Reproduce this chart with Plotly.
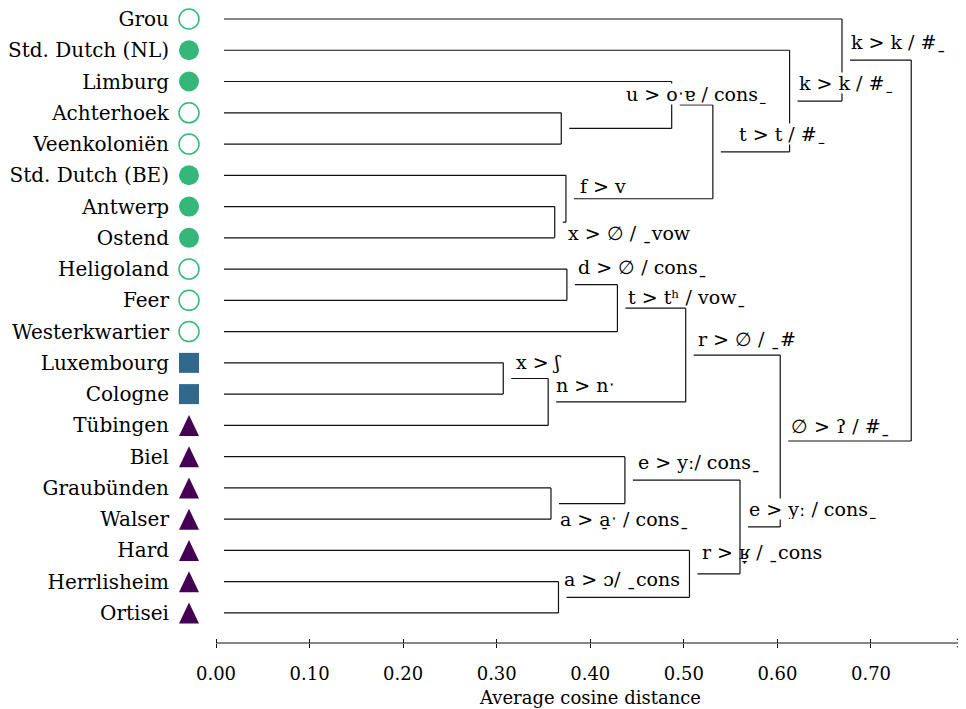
import plotly.graph_objects as go

# ---------------- data ----------------
leaves = ["Grou", "Std. Dutch (NL)", "Limburg", "Achterhoek", "Veenkoloniën",
          "Std. Dutch (BE)", "Antwerp", "Ostend", "Heligoland", "Feer",
          "Westerkwartier", "Luxembourg", "Cologne", "Tübingen", "Biel",
          "Graubünden", "Walser", "Hard", "Herrlisheim", "Ortisei"]
leaf_group = ["open", "filled", "filled", "open", "open",
              "filled", "filled", "filled", "open", "open",
              "open", "square", "square", "triangle", "triangle",
              "triangle", "triangle", "triangle", "triangle", "triangle"]

# merges: node id = 20 + position in these lists
merge_left = [3, 6, 5, 2, 23, 1, 0, 8, 27, 11, 29, 28, 15, 14, 18, 17, 33, 31, 26]
merge_right = [4, 7, 21, 20, 22, 24, 25, 9, 10, 12, 13, 30, 16, 32, 19, 34, 35, 36, 37]
merge_height = [0.369, 0.362, 0.374, 0.487, 0.531, 0.613, 0.669, 0.375, 0.429,
                0.307, 0.355, 0.502, 0.358, 0.437, 0.366, 0.506, 0.560, 0.603, 0.743]
merge_label = [None, "x > ∅ / ˍvow", "f > v", "u > oˑɐ / consˍ", "t > t / #ˍ",
               "k > k / #ˍ", "k > k / #ˍ", "d > ∅ / consˍ", "t > tʰ / vowˍ",
               "x > ʃ", "n > nˑ", "r > ∅ / ˍ#", "a > a̠ˑ / consˍ", "e > yː/ consˍ",
               "a > ɔ/ ˍcons", "r > ʁ̞ / ˍcons", "e > yː / consˍ", "∅ > ʔ / #ˍ", None]

tick_values = [0.0, 0.1, 0.2, 0.3, 0.4, 0.5, 0.6, 0.7]
tick_text = ["0.00", "0.10", "0.20", "0.30", "0.40", "0.50", "0.60", "0.70"]
axis_title = "Average cosine distance"

# ---------------- layout / style ----------------
# (page body has an 8px margin, so the figure is 16px smaller than the window)
W, H = 958, 701
ML, MR, MT, MB = 164, 2, 0, 66
ZERO_PX = 208                     # pixel position of x = 0 inside the figure
PLOT_W = W - ML - MR
PX_PER_X = 935.7
X_MIN = -(ZERO_PX - ML) / PX_PER_X
X_MAX = X_MIN + PLOT_W / PX_PER_X
LEAF_PX = 31.26
Y_TOP = -11 / LEAF_PX
Y_BOTTOM = Y_TOP + (H - MT - MB) / LEAF_PX
GAP = 8 / PX_PER_X
MARKER_X = -27 / PX_PER_X
FONT = "DejaVu Serif"
GREEN, BLUE, PURPLE = "#35b779", "#31688e", "#440154"
LINE_COLOR = "#111111"

# per-label placement relative to start of node's outgoing branch (px) and mask flag
label_style = {
    1: (4, -10.5, False), 2: (5, 13, False), 3: (-55, 11, True), 4: (17, 18, True),
    5: (0, 18.5, True), 6: (0, 18.5, False), 7: (2, 17.5, False), 8: (2, 11.5, False),
    9: (4, 16.5, False), 10: (-1, 16.5, False), 11: (3, 16.5, False), 12: (0, -15.5, False),
    13: (4, 18.5, False), 14: (-3, 18.5, False), 15: (4, 21.5, False), 16: (0, 17.5, True),
    17: (2, 15.5, False),
}

# ---------------- compute tree geometry ----------------
n = len(leaves)
node_y = [float(i) for i in range(n)]
node_h = [0.0] * n
for a, b, h in zip(merge_left, merge_right, merge_height):
    node_y.append((node_y[a] + node_y[b]) / 2)
    node_h.append(h)
start_x = [h + GAP for h in node_h]

xs, ys = [], []
for a, b, h in zip(merge_left, merge_right, merge_height):
    for c in (a, b):
        xs += [start_x[c], h, None]
        ys += [node_y[c], node_y[c], None]
    xs += [h, h, None]
    ys += [node_y[a], node_y[b], None]

fig = go.Figure()
fig.add_trace(go.Scatter(x=xs, y=ys, mode="lines",
                         line=dict(color=LINE_COLOR, width=1.2),
                         hoverinfo="skip", showlegend=False))


def idx(g):
    return [i for i, v in enumerate(leaf_group) if v == g]


for g, sym, color, extra in [("open", "circle-open", GREEN, dict(line=dict(color=GREEN, width=1.5))),
                             ("filled", "circle", GREEN, dict(line=dict(width=0))),
                             ("square", "square", BLUE, dict(line=dict(width=0)))]:
    ii = idx(g)
    fig.add_trace(go.Scatter(x=[MARKER_X] * len(ii), y=[node_y[i] for i in ii],
                             mode="markers", cliponaxis=False, showlegend=False,
                             hoverinfo="skip",
                             marker=dict(symbol=sym, size=20, color=color, **extra)))

shapes = []
for i in idx("triangle"):
    shapes.append(dict(type="path", xref="x", yref="y", xsizemode="pixel", ysizemode="pixel",
                       xanchor=MARKER_X, yanchor=node_y[i],
                       path="M -10,-10.5 L 10,-10.5 L 0,10.5 Z",
                       fillcolor=PURPLE, line=dict(width=0), layer="above"))
# x axis line from 0 to the arrow tip, and the arrow head
shapes.append(dict(type="line", xref="x", yref="paper", x0=0, x1=X_MAX, y0=0, y1=0,
                   line=dict(color=LINE_COLOR, width=1.1)))
shapes.append(dict(type="path", xref="x", yref="paper", xsizemode="pixel", ysizemode="pixel",
                   xanchor=X_MAX, yanchor=0, path="M -7,4 Q -3,1.2 0,0 Q -3,-1.2 -7,-4",
                   line=dict(color=LINE_COLOR, width=1.1)))

annotations = []
for k, lab in enumerate(merge_label):
    if lab is None:
        continue
    node = n + k
    dx, dy, mask = label_style[k]
    ann = dict(x=start_x[node], y=node_y[node], xref="x", yref="y", text=lab,
               showarrow=False, xanchor="left", yanchor="middle",
               xshift=dx, yshift=dy, font=dict(family=FONT, size=19, color="black"),
               borderpad=0)
    if mask:
        ann.update(bgcolor="white", height=20)
    annotations.append(ann)

# axis title centred under the 0 .. arrow span
annotations.append(dict(x=X_MAX / 2, y=0, xref="x", yref="paper", text=axis_title,
                        showarrow=False, xanchor="center", yanchor="middle", yshift=-54,
                        font=dict(family=FONT, size=18, color="black")))

# invisible trace for the overlay tick axis
fig.add_trace(go.Scatter(x=[0], y=[0], xaxis="x2", mode="markers",
                         marker=dict(opacity=0), hoverinfo="skip", showlegend=False))

fig.update_layout(
    width=W, height=H, margin=dict(l=ML, r=MR, t=MT, b=MB),
    paper_bgcolor="white", plot_bgcolor="white",
    font=dict(family=FONT, color="black"),
    shapes=shapes, annotations=annotations,
    xaxis=dict(range=[X_MIN, X_MAX], showgrid=False, zeroline=False, showline=False,
               ticks="outside", ticklen=4, tickwidth=1.1, tickcolor=LINE_COLOR,
               tickvals=tick_values, ticktext=tick_text, ticklabelstandoff=10,
               tickfont=dict(family=FONT, size=18, color="black")),
    xaxis2=dict(range=[X_MIN, X_MAX], overlaying="x", anchor="y", side="bottom",
                showgrid=False, zeroline=False, showline=False,
                ticks="inside", ticklen=4, tickwidth=1.1, tickcolor=LINE_COLOR,
                tickvals=tick_values, showticklabels=False),
    yaxis=dict(range=[Y_BOTTOM, Y_TOP], showgrid=False, zeroline=False, showline=False,
               ticks="", tickvals=list(range(n)), ticktext=leaves,
               ticklabelstandoff=2, ticklabeloverflow="allow",
               tickfont=dict(family=FONT, size=20, color="black")),
)

fig.write_html("out.html")
